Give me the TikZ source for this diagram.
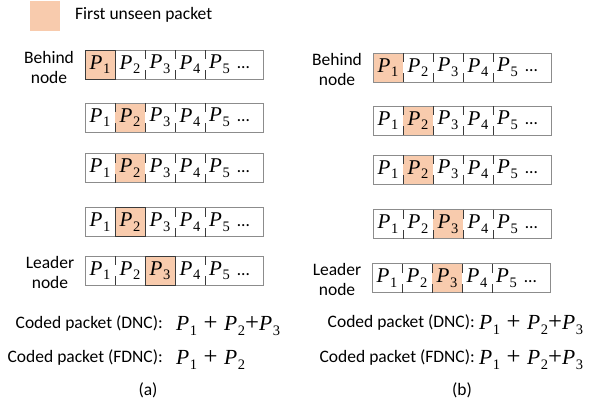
\documentclass[tikz,border=0pt]{standalone}
\usepackage{fontspec}
\setmainfont{Carlito}
\newfontfamily\pfont{Liberation Serif}[AutoFakeBold=1.2]
\definecolor{hlfill}{HTML}{F8CBAD}
\definecolor{boxgray}{HTML}{8C8C8C}
\definecolor{tickdark}{HTML}{3A3A3A}
\newcommand\pk[1]{{\pfont\itshape\bfseries P}\kern0.03em\raisebox{-0.22em}{\pfont\fontsize{14.5}{14}\selectfont #1}}
\newcommand\pplus{\hspace{0.3em}{\pfont\scalebox{1.15}{+}}\hspace{0.3em}}
\newcommand\ptight{{\pfont\scalebox{1.15}{+}}}
\tikzset{
  lbl/.style={inner sep=0pt, font=\fontsize{17.5}{20}\selectfont, align=center},
  cell/.style={inner sep=0pt, font=\fontsize{21}{24}\selectfont},
  frm/.style={inner sep=0pt, font=\fontsize{21.5}{24}\selectfont},
  outerbox/.style={draw=boxgray, line width=0.9pt},
  tick/.style={draw=tickdark, line width=0.9pt},
  hlborder/.style={draw=tickdark, line width=0.9pt},
}
% #1 name prefix, #2 x0, #3 ytop, #4 highlight index, #5 border (1/0)
\newcommand\pktrow[5]{%
  \pgfmathsetmacro\hlx{#2+30*(#4-1)}%
  \fill[hlfill] (\hlx,#3) rectangle ++(30,29);
  \draw[outerbox] (#2,#3) rectangle ++(178,29);
  \foreach \k in {1,2,3,4}{%
    \draw[tick] (#2+30*\k,#3) -- ++(0,9);
    \draw[tick] (#2+30*\k,#3+29) -- ++(0,-9);
  }
  \ifnum#5=1 \draw[hlborder] (\hlx,#3) rectangle ++(30,29);\fi
  \foreach \k in {1,2,3,4}{%
    \node[cell] (#1c\k) at (#2+30*\k-15,#3+14.5) {\pk{\k}};
  }
  \node[cell, anchor=west] (#1c5) at (#2+124,#3+14.5) {\pk{5}\hspace{0.35em}{\fontsize{17.5}{20}\selectfont\ldots}};
}
\begin{document}
\begin{tikzpicture}[x=1pt,y=-1pt]
\useasboundingbox (0,0) rectangle (589,410);
% legend
\fill[hlfill] (30,1) rectangle (60,31);
\node[lbl, anchor=west] (legend) at (75,15) {First unseen packet};
% left column
\pktrow{La}{85}{50}{1}{1}
\pktrow{Lb}{85}{103}{2}{0}
\pktrow{Lc}{85}{153.5}{2}{0}
\pktrow{Ld}{85}{207.5}{2}{1}
\pktrow{Le}{85}{256}{3}{1}
\node[lbl] (Lbehind) at (49,67) {Behind\\node};
\node[lbl] (Lleader) at (50,272) {Leader\\node};
% right column
\pktrow{Ra}{373}{53}{1}{0}
\pktrow{Rb}{373}{106}{2}{0}
\pktrow{Rc}{373}{155}{2}{0}
\pktrow{Rd}{373}{209.5}{3}{0}
\pktrow{Re}{372}{263.5}{3}{0}
\node[lbl] (Rbehind) at (337,69) {Behind\\node};
\node[lbl] (Rleader) at (337,279) {Leader\\node};
% coded packets left
\node[lbl, anchor=east] (Ldnc) at (163,324) {Coded packet (DNC):};
\node[frm, anchor=west] (Ldncf) at (176,326) {\pk{1}\pplus\pk{2}\ptight\pk{3}};
\node[lbl, anchor=east] (Lfdnc) at (163,358) {Coded packet (FDNC):};
\node[frm, anchor=west] (Lfdncf) at (176,360) {\pk{1}\pplus\pk{2}};
\node[lbl] (capa) at (148,390) {(a)};
% coded packets right
\node[lbl, anchor=east] (Rdnc) at (475,323) {Coded packet (DNC):};
\node[frm, anchor=west] (Rdncf) at (479,325) {\pk{1}\pplus\pk{2}\ptight\pk{3}};
\node[lbl, anchor=east] (Rfdnc) at (475,358) {Coded packet (FDNC):};
\node[frm, anchor=west] (Rfdncf) at (479,360) {\pk{1}\pplus\pk{2}\ptight\pk{3}};
\node[lbl] (capb) at (462,390) {(b)};
\end{tikzpicture}
\end{document}
